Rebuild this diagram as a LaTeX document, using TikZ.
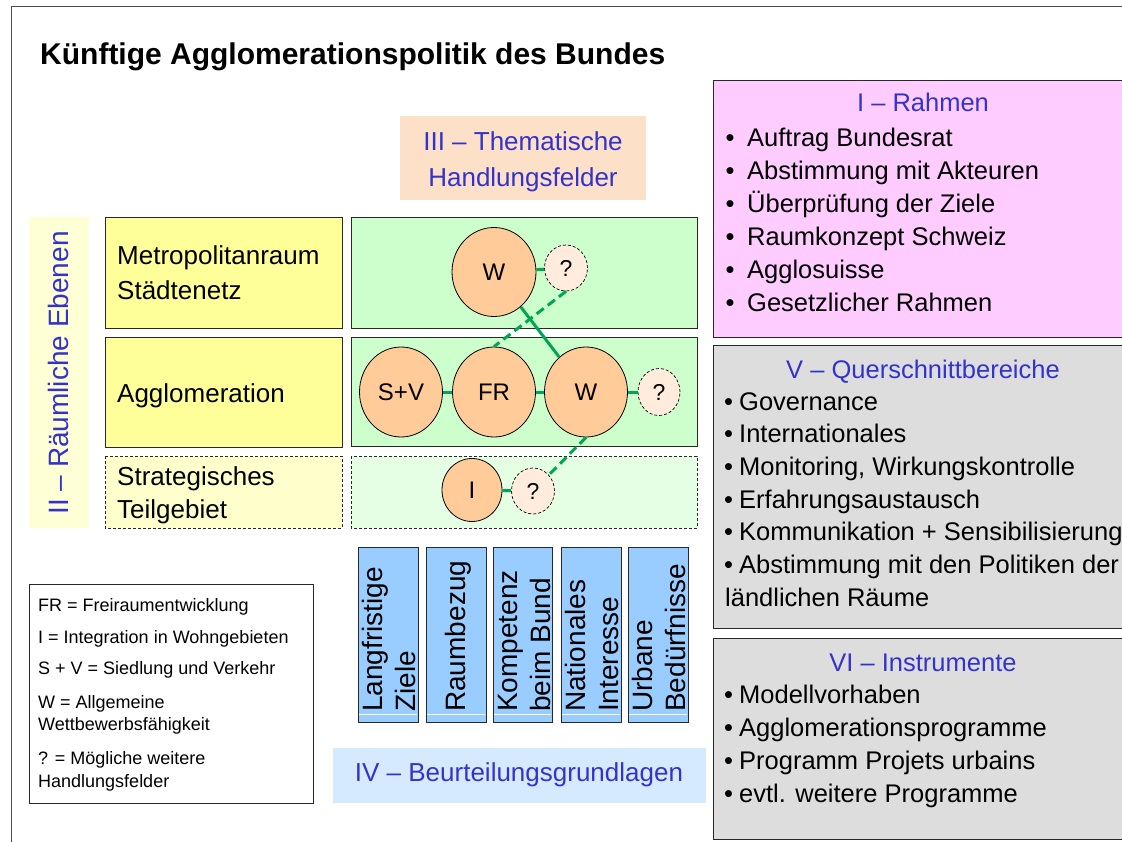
\documentclass[tikz,border=0pt]{standalone}
\usepackage{fontspec}
\setmainfont{Liberation Sans}
\usetikzlibrary{shapes.geometric}
\definecolor{tblue}{RGB}{51,51,204}
\definecolor{lgreen}{RGB}{0,166,81}
\definecolor{boxgreen}{RGB}{204,255,204}
\definecolor{boxgreenpale}{RGB}{229,255,229}
\definecolor{boxyellow}{RGB}{255,255,153}
\definecolor{boxyellowpale}{RGB}{255,255,204}
\definecolor{labelyellow}{RGB}{255,255,214}
\definecolor{peach}{RGB}{252,224,200}
\definecolor{circfill}{RGB}{255,204,153}
\definecolor{qfill}{RGB}{255,236,220}
\definecolor{pinkbox}{RGB}{255,204,255}
\definecolor{graybox}{RGB}{221,221,221}
\definecolor{colblue}{RGB}{153,204,255}
\definecolor{ivblue}{RGB}{214,234,255}
\definecolor{edge}{RGB}{40,40,40}
\newcommand\myfs[2]{\fontsize{#1}{#2}\selectfont}
\begin{document}
\begin{tikzpicture}[x=1pt,y=-1pt,
  frameline/.style={draw=black!70, line width=1pt},
  solidbox/.style={draw=edge, line width=0.9pt},
  dashbox/.style={draw=edge, line width=0.9pt, dash pattern=on 3pt off 2pt},
  rowtxt/.style={inner sep=0, anchor=base west, font=\myfs{26}{31}},
  headtxt/.style={inner sep=0, anchor=base, text=tblue, font=\myfs{26}{31}},
  rtxt/.style={inner sep=0, anchor=base west, font=\myfs{25.5}{30}},
  legtxt/.style={inner sep=0, anchor=base west, font=\myfs{18}{22}},
  coltxt/.style={inner sep=0, rotate=90, anchor=base west, font=\myfs{28}{32}},
  bigc/.style={ellipse, draw=black, line width=0.8pt, fill=circfill, minimum width=83pt, minimum height=90pt, inner sep=0, font=\myfs{24}{28}},
  smallc/.style={ellipse, draw=black, line width=0.7pt, dash pattern=on 3pt off 2pt, fill=qfill, minimum width=43pt, minimum height=46pt, inner sep=0, font=\myfs{23}{27}},
  link/.style={draw=lgreen, line width=3pt},
  dlink/.style={draw=lgreen, line width=3pt, dash pattern=on 9pt off 5pt}
]
\useasboundingbox (0,0) rectangle (1122,842);
\fill[white] (0,0) rectangle (1122,842);

% outer frame
\draw[frameline] (11,845) -- (11,7) -- (1125,7);

% title
\node[inner sep=0, anchor=base west, font=\bfseries\myfs{30}{36}] (title) at (40,65) {Künftige Agglomerationspolitik des Bundes};

% III box
\fill[peach] (400,116) rectangle (646,200);
\node[headtxt] (h3a) at (523,151) {III – Thematische};
\node[headtxt] (h3b) at (523,187) {Handlungsfelder};

% II label
\fill[labelyellow] (29,217) rectangle (89,528);
\node[inner sep=0, rotate=90, text=tblue, font=\myfs{28}{32}] (h2) at (58,373) {II – Räumliche Ebenen};

% yellow rows
\path[solidbox, fill=boxyellow] (105,217) rectangle (342,328);
\path[solidbox, fill=boxyellow] (105,337) rectangle (342,447);
\path[dashbox, fill=boxyellowpale] (105,456) rectangle (342,528);
\node[rowtxt] (y1a) at (117,265) {Metropolitanraum};
\node[rowtxt] (y1b) at (117,300) {Städtenetz};
\node[rowtxt] (y2) at (117,402) {Agglomeration};
\node[rowtxt] (y3a) at (117,485) {Strategisches};
\node[rowtxt] (y3b) at (117,518) {Teilgebiet};

% green rows
\path[solidbox, fill=boxgreen] (351,217) rectangle (697,328);
\path[solidbox, fill=boxgreen] (351,337) rectangle (697,446);
\path[dashbox, fill=boxgreenpale] (351,456) rectangle (697,528);

% circles
\node[bigc, minimum width=84pt, minimum height=89pt] (W1) at (494,272) {W};
\node[smallc] (q1) at (566,268) {?};
\node[bigc] (SV) at (401,392) {S+V};
\node[bigc] (FR) at (494,392) {FR};
\node[bigc] (W2) at (586,392) {W};
\node[smallc, minimum width=42pt, minimum height=47pt] (q2) at (659,392) {?};
\node[bigc, minimum width=60pt, minimum height=63pt] (I) at (472,490) {I};
\node[smallc] (q3) at (533,491) {?};

% connectors
\draw[link] (W1) -- (q1);
\draw[link] (SV) -- (FR);
\draw[link] (FR) -- (W2);
\draw[link] (W2) -- (q2);
\draw[link] (I) -- (q3);
\draw[link] (W1) -- (W2);
\draw[dlink] (q1.south) -- (FR.north);
\draw[dlink] (W2.south) -- (q3);

% legend
\draw[solidbox] (29,584) rectangle (313,803);
\node[legtxt] (lg1) at (38,611.5) {FR = Freiraumentwicklung};
\node[legtxt] (lg2) at (38,643.5) {I = Integration in Wohngebieten};
\node[legtxt] (lg3) at (38,674.5) {S + V = Siedlung und Verkehr};
\node[legtxt] (lg4) at (38,708) {W = Allgemeine};
\node[legtxt] (lg5) at (38,730.5) {Wettbewerbsfähigkeit};
\node[legtxt] (lg6) at (38,764.5) {? = Mögliche weitere};
\node[legtxt] (lg7) at (38,787.5) {Handlungsfelder};

% blue columns
\foreach \xa/\xb in {358/418, 426/486, 493/552, 561/621, 628/688}{
  \path[solidbox, fill=colblue] (\xa,547) rectangle (\xb,722);
  \draw[white, line width=0.8pt] (\xa+1,714) -- (\xb-1,714);
}
\node[coltxt] (c1a) at (382,712) {Langfristige};
\node[coltxt] (c1b) at (415,712) {Ziele};
\node[coltxt] (c2) at (465,712) {Raumbezug};
\node[coltxt] (c3a) at (517,712) {Kompetenz};
\node[coltxt] (c3b) at (550,712) {beim Bund};
\node[coltxt] (c4a) at (585,712) {Nationales};
\node[coltxt] (c4b) at (618,712) {Interesse};
\node[coltxt] (c5a) at (652,712) {Urbane};
\node[coltxt] (c5b) at (685,712) {Bedürfnisse};

% IV box
\fill[ivblue] (333,748) rectangle (706,803);
\node[headtxt] (h4) at (519,781) {IV – Beurteilungsgrundlagen};

% I box
\path[solidbox, fill=pinkbox] (713,80) rectangle (1130,337);
\node[headtxt, font=\myfs{25.5}{30}] (h1) at (923,112) {I – Rahmen};
\foreach \t [count=\i from 0] in {Auftrag Bundesrat, Abstimmung mit Akteuren, Überprüfung der Ziele, Raumkonzept Schweiz, Agglosuisse, Gesetzlicher Rahmen}
  \node[rtxt] (ra\i) at (725.5,146.5+33.1*\i) {\makebox[21.5pt][l]{\textbullet}\t};

% V box
\path[solidbox, fill=graybox] (713,345) rectangle (1130,628);
\node[headtxt, font=\myfs{25.5}{30}] (h5) at (923,378) {V – Querschnittbereiche};
\foreach \t [count=\i from 0] in {Governance, Internationales, {Monitoring, Wirkungskontrolle}, Erfahrungsaustausch, Kommunikation + Sensibilisierung, Abstimmung mit den Politiken der}
  \node[rtxt] (rv\i) at (724,410+32.7*\i) {\makebox[15pt][l]{\textbullet}\t};
\node[rtxt] (rv6) at (725,606) {ländlichen Räume};

% VI box
\path[solidbox, fill=graybox] (713,638) rectangle (1130,839);
\node[headtxt, font=\myfs{25.5}{30}] (h6) at (923,671.5) {VI – Instrumente};
\foreach \t [count=\i from 0] in {Modellvorhaben, Agglomerationsprogramme, Programm Projets urbains, evtl. weitere Programme}
  \node[rtxt] (ri\i) at (724,703+33.2*\i) {\makebox[15pt][l]{\textbullet}\t};
\end{tikzpicture}
\end{document}
